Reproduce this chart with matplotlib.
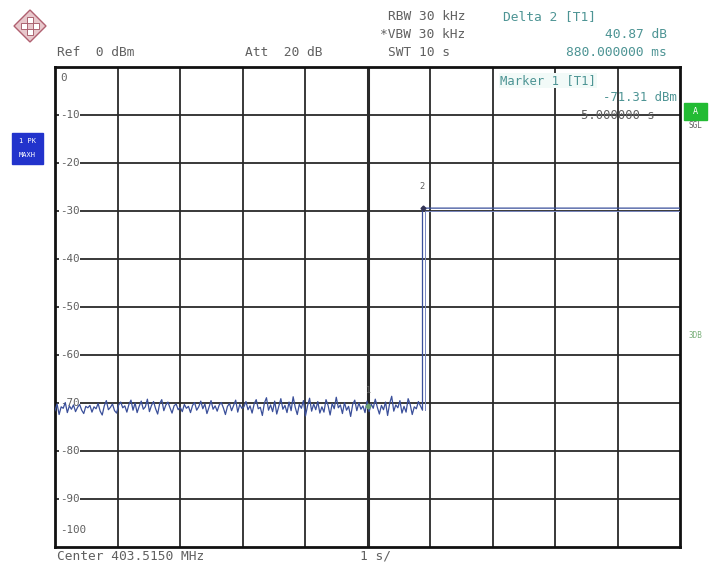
import numpy as np
import matplotlib
matplotlib.use("Agg")
import matplotlib.pyplot as plt
from matplotlib.patches import Rectangle, Polygon

# sweep: 10 s span, 1 s/div, levels in dBm
sweep_s = 10.0
ref_dbm = 0
range_db = 100
y_ticks = [0, -10, -20, -30, -40, -50, -60, -70, -80, -90, -100]

# noise floor before the carrier switches on
noise_dbm = [
    -71.6, -70.2, -72.4, -70.8, -71.1, -69.9, -72.0, -70.6, -71.3, -70.4,
    -71.8, -70.9, -70.3, -71.5, -72.2, -70.7, -71.0, -70.5, -71.9, -70.8,
    -71.2, -70.1, -71.7, -72.5, -70.6, -69.5, -71.4, -70.9, -70.2, -71.6,
    -72.1, -70.4, -69.8, -71.0, -70.6, -71.9, -70.3, -69.4, -71.5, -70.0,
    -72.0, -70.7, -69.6, -71.3, -70.8, -69.2, -71.8, -70.5, -69.7, -71.2,
    -72.3, -70.1, -69.3, -71.6, -70.4, -69.8, -71.0, -72.1, -70.6, -70.2,
    -71.4, -70.9, -71.8, -70.3, -71.1, -70.7, -72.0, -70.5, -69.9, -71.5,
    -70.8, -69.6, -71.2, -70.2, -72.2, -70.9, -69.5, -71.3, -70.6, -71.7,
    -70.4, -69.9, -71.0, -72.4, -70.7, -70.1, -71.6, -70.5, -69.4, -71.9,
    -70.3, -71.1, -70.8, -69.7, -71.4, -70.6, -72.1, -70.2, -69.3, -71.2,
    -70.9, -72.6, -70.0, -68.9, -71.5, -70.4, -71.8, -69.6, -72.3, -70.7,
    -69.1, -71.3, -70.5, -72.0, -69.8, -71.6, -68.7, -70.9, -72.4, -70.3,
    -71.1, -69.5, -72.7, -70.6, -69.0, -71.7, -70.2, -71.4, -69.7, -72.1,
    -70.8, -71.9, -69.3, -70.5, -72.5, -70.1, -71.2, -68.8, -71.0, -70.4,
    -72.2, -69.9, -71.5, -70.7, -72.8, -70.3, -69.4, -71.6, -70.0, -71.3,
    -70.6, -72.0, -69.6, -71.8, -70.2, -71.1, -69.2, -70.9, -72.3, -70.5,
    -71.4, -69.8, -72.6, -70.1, -68.6, -71.7, -70.4, -71.0, -69.5, -72.1,
    -70.7, -71.9, -69.1, -70.3, -72.4, -70.8, -71.2, -69.7, -70.6, -71.5,
]
step_time_s = 5.88
carrier_dbm = -29.4

marker1_s = 5.0
marker1_dbm = -70.6

grid_c = "#2a2a2a"
trace_c = "#3a4f9a"
text_c = "#606060"
mark_c = "#4d9494"

W, H = 711, 571
fig = plt.figure(figsize=(W / 100, H / 100), dpi=100)
ax = fig.add_axes([55 / W, 1 - 547 / H, 625 / W, 480 / H])
ax.set_xlim(0, sweep_s)
ax.set_ylim(ref_dbm - range_db, ref_dbm)
ax.set_xticks([])
ax.set_yticks([])
for s in ax.spines.values():
    s.set_linewidth(2.0)
    s.set_color("#111111")

for i in range(1, 10):
    ax.axvline(i * sweep_s / 10, color=grid_c, lw=2.2 if i == 5 else 1.3, zorder=1)
for v in y_ticks[1:-1]:
    ax.axhline(v, color=grid_c, lw=1.3, zorder=1)

fs = 9.3
mono = "DejaVu Sans Mono"
for v in y_ticks:
    yy = v if v not in (0, -100) else (v - 2.2 if v == 0 else v + 3.5)
    ax.text(0.08, yy, f"{v}", fontsize=fs - 1.5, family=mono, color=text_c,
            va="center", ha="left", zorder=3,
            bbox=dict(facecolor="white", edgecolor="none", pad=0.6))

t_noise = np.linspace(0, step_time_s, len(noise_dbm))
t_trace = np.concatenate([t_noise, [step_time_s, sweep_s]])
y_trace = np.concatenate([noise_dbm, [carrier_dbm, carrier_dbm]])
ax.plot(t_trace, y_trace, color=trace_c, lw=0.9, zorder=4)
ax.plot([step_time_s + 0.04, step_time_s + 0.04, sweep_s],
        [noise_dbm[-1], carrier_dbm - 0.6, carrier_dbm - 0.6],
        color="#7a88c0", lw=0.7, zorder=4)

ax.plot(marker1_s, marker1_dbm, marker="D", ms=2.5, color="#6aa070", zorder=5)
ax.text(marker1_s, marker1_dbm + 2.6, "1", fontsize=6, color=text_c, ha="center")
ax.plot(step_time_s, carrier_dbm, marker="D", ms=2.5, color="#333355", zorder=5)
ax.text(step_time_s, carrier_dbm + 4.0, "2", fontsize=6, color=text_c, ha="center")

# marker readout inside the grid
ax.text(0.712, 0.985, "Marker 1 [T1]", transform=ax.transAxes, fontsize=fs - 0.5,
        family=mono, color=mark_c, va="top", ha="left",
        bbox=dict(facecolor="#f2faf8", edgecolor="none", pad=0.8))
ax.text(0.995, 0.95, "-71.31 dBm", transform=ax.transAxes, fontsize=fs - 0.5,
        family=mono, color=mark_c, va="top", ha="right")
ax.text(0.96, 0.913, "5.000000 s", transform=ax.transAxes, fontsize=fs - 0.5,
        family=mono, color="#606060", va="top", ha="right")

def ftxt(x, y, s, c=text_c, ha="left", size=fs):
    fig.text(x / W, 1 - y / H, s, fontsize=size, family=mono, color=c,
             ha=ha, va="center")

ftxt(57, 52, "Ref  0 dBm")
ftxt(245, 52, "Att  20 dB")
ftxt(388, 17, "RBW 30 kHz")
ftxt(380, 34, "*VBW 30 kHz")
ftxt(388, 52, "SWT 10 s")
ftxt(503, 17, "Delta 2 [T1]", c=mark_c)
ftxt(667, 34, "40.87 dB", c=mark_c, ha="right")
ftxt(667, 52, "880.000000 ms", c=mark_c, ha="right")
ftxt(57, 556, "Center 403.5150 MHz")
ftxt(360, 556, "1 s/")
ftxt(695, 126, "SGL", size=5.5, ha="center")
ftxt(695, 335, "3DB", c="#7ab07a", size=5.5, ha="center")

# side labels
fig.patches.append(Rectangle((12 / W, 1 - 164 / H), 31 / W, 31 / H,
                             transform=fig.transFigure, color="#2233cc"))
ftxt(27.5, 141, "1 PK", c="white", ha="center", size=5)
ftxt(27.5, 155, "MAXH", c="white", ha="center", size=5)
fig.patches.append(Rectangle((684 / W, 1 - 120 / H), 23 / W, 17 / H,
                             transform=fig.transFigure, color="#22bb33"))
ftxt(695.5, 111, "A", c="white", ha="center", size=6)

# logo
cx, cy, r = 30, 26, 16
fig.patches.append(Polygon([((cx) / W, 1 - (cy - r) / H), ((cx + r) / W, 1 - cy / H),
                            ((cx) / W, 1 - (cy + r) / H), ((cx - r) / W, 1 - cy / H)],
                           closed=True, transform=fig.transFigure,
                           facecolor="#e8c8cc", edgecolor="#b06070", lw=1.0))
for dx, dy in [(-6, 0), (6, 0), (0, -6), (0, 6)]:
    fig.patches.append(Rectangle(((cx + dx - 3) / W, 1 - (cy + dy + 3) / H), 6 / W, 6 / H,
                                 transform=fig.transFigure, facecolor="white",
                                 edgecolor="#a05060", lw=0.6))

fig.savefig("out.png", dpi=100, facecolor="white")
